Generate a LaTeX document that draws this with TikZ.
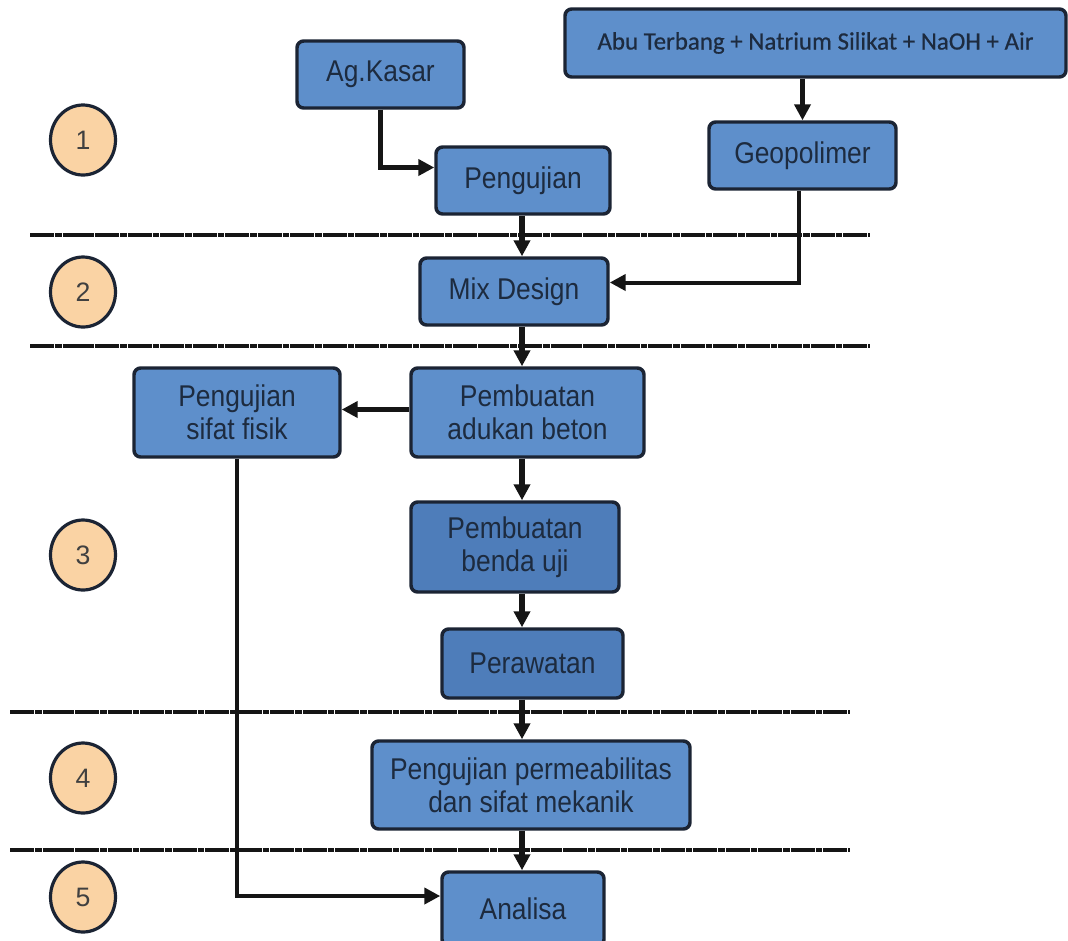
\documentclass[tikz,border=0pt]{standalone}
\usepackage{fontspec}
\setmainfont{Liberation Sans}
\newfontfamily\boxfont[FakeStretch=0.88]{Liberation Sans}
\newfontfamily\abufont[FakeBold=0.6]{Carlito}
\usetikzlibrary{arrows.meta,shapes.geometric,calc}
\definecolor{boxblue}{HTML}{5E8FCB}
\definecolor{boxdark}{HTML}{4E7DBA}
\definecolor{edgecol}{HTML}{1B2434}
\definecolor{txtcol}{HTML}{1D2B3F}
\definecolor{peach}{HTML}{FAD3A4}
\definecolor{linecol}{HTML}{151515}
\begin{document}
\begin{tikzpicture}[x=0.75pt,y=-0.75pt,
  box/.style={draw=edgecol, line width=2.6pt, rounded corners=5pt, fill=boxblue,
    text=txtcol, font=\boxfont\fontsize{22.5}{25}\selectfont, align=center, inner sep=0pt},
  darkbox/.style={box, fill=boxdark},
  num/.style={ellipse, draw=edgecol, line width=2.4pt, fill=peach, inner sep=0pt,
    minimum width=48.75pt, minimum height=52.5pt, text=black!75,
    font=\fontsize{20}{22}\selectfont},
  arr/.style={draw=linecol, line width=4.4pt, -{Triangle[length=12pt,width=12pt]}},
  thinarr/.style={draw=linecol, line width=3pt, -{Triangle[length=12pt,width=12pt]}},
  sep/.style={draw=linecol, line width=3pt, dash pattern=on 18pt off 0.7pt on 5pt off 0.7pt}
]
\useasboundingbox (0,0) rectangle (1068,940);
\fill[white] (0,0) rectangle (1068,940);

% stage separators
\coordinate (s1a) at (30,235);  \coordinate (s1b) at (870,235);
\coordinate (s2a) at (30,346);  \coordinate (s2b) at (870,346);
\coordinate (s3a) at (10,712);  \coordinate (s3b) at (850,712);
\coordinate (s4a) at (10,850);  \coordinate (s4b) at (850,850);
\draw[sep] (s1a) -- (s1b);
\draw[sep] (s2a) -- (s2b);
\draw[sep] (s3a) -- (s3b);
\draw[sep] (s4a) -- (s4b);

% stage numbers
\node[num] (n1) at (83,140) {1};
\node[num] (n2) at (83,292) {2};
\node[num] (n3) at (83,555) {3};
\node[num] (n4) at (83,778) {4};
\node[num] (n5) at (83,897) {5};

% boxes
\node[box, minimum width=125.25pt, minimum height=50.25pt] (agk) at (380.5,74.5) {Ag.Kasar};
\node[box, minimum width=375.75pt, minimum height=51pt, font=\abufont\fontsize{18.7}{22}\selectfont] (abu) at (815.5,43) {Abu Terbang + Natrium Silikat + NaOH + Air};
\node[box, minimum width=140.25pt, minimum height=50.25pt] (geo) at (802.5,155.5) {Geopolimer};
\node[box, minimum width=130.5pt, minimum height=50.25pt] (peng) at (523,180.5) {Pengujian};
\node[box, minimum width=141pt, minimum height=50.25pt] (mix) at (514,291.5) {Mix Design};
\node[box, minimum width=174.75pt, minimum height=66.75pt] (aduk) at (527.5,412.5) {Pembuatan\\adukan beton};
\node[box, minimum width=154.5pt, minimum height=66.75pt] (fisik) at (237,412.5) {Pengujian\\sifat fisik};
\node[darkbox, minimum width=156pt, minimum height=67.5pt] (benda) at (515,547) {Pembuatan\\benda uji};
\node[darkbox, minimum width=135.75pt, minimum height=51.75pt] (rawat) at (532.5,663.5) {Perawatan};
\node[box, minimum width=238.5pt, minimum height=66pt] (perm) at (531,785) {Pengujian permeabilitas\\dan sifat mekanik};
\node[box, minimum width=121.5pt, minimum height=55.5pt] (ana) at (523,909) {Analisa};

% connectors
\coordinate (sp) at (522,0);
\draw[arr] (agk.south) |- ($(peng.west)+(0,-13)$);
\draw[arr] (geo.north |- abu.south) -- (geo.north);
\draw[thinarr] ($(geo.south)+(-4,0)$) |- ($(mix.east)+(0,-9)$);
\draw[arr] (peng.south -| sp) -- (mix.north -| sp);
\draw[arr] (mix.south -| sp) -- (aduk.north -| sp);
\draw[arr] ($(aduk.west)+(0,-3)$) -- ($(aduk.west -| fisik.east)+(0,-3)$);
\draw[arr] (aduk.south -| sp) -- (benda.north -| sp);
\draw[arr] (benda.south -| sp) -- (rawat.north -| sp);
\draw[arr] (rawat.south -| sp) -- (perm.north -| sp);
\draw[arr] (perm.south -| sp) -- (ana.north -| sp);
\draw[thinarr] (fisik.south) |- ($(ana.west)+(0,-13)$);
\end{tikzpicture}
\end{document}
